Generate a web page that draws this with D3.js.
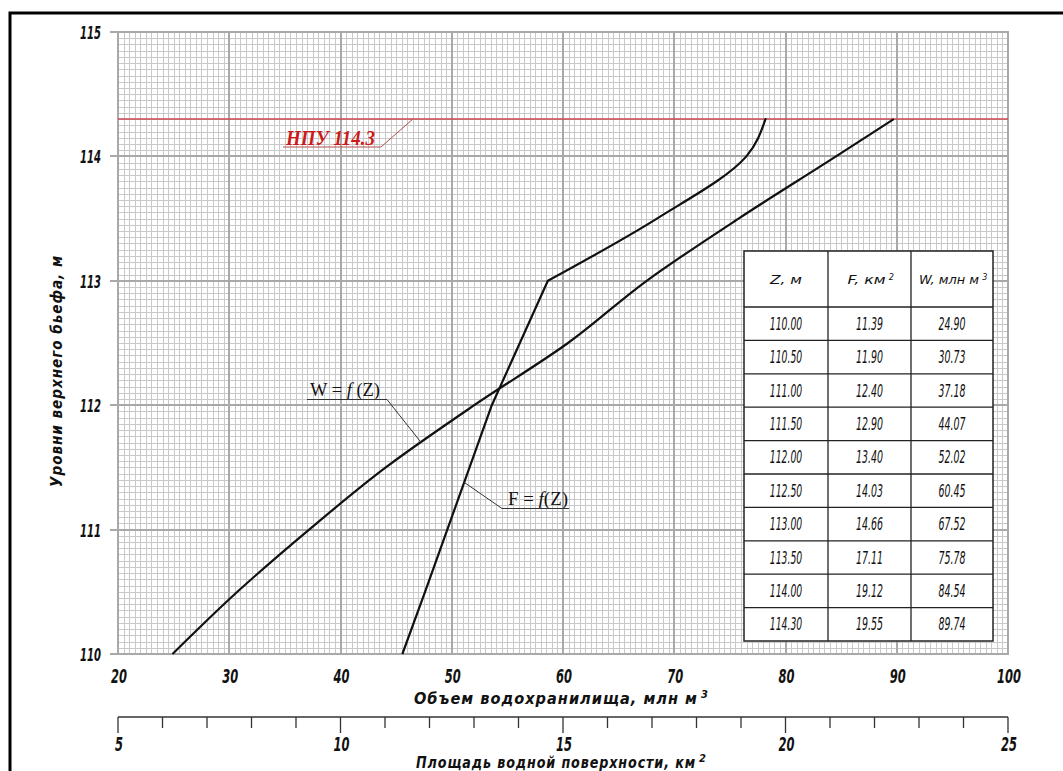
<!DOCTYPE html>
<html>
<head>
<meta charset="utf-8">
<script src="https://cdn.jsdelivr.net/npm/d3@7"></script>
<style>
    body { margin: 0; background: #fff; }
    svg { display: block; }
    .tick-label { font-family: "Liberation Sans Narrow", "Arial Narrow", "DejaVu Sans Condensed", "Liberation Sans", sans-serif; font-style: italic; font-weight: bold; font-size: 19px; fill: #111; }
    .axis-title { font-family: "Liberation Sans Narrow", "DejaVu Sans Condensed", "Liberation Sans", sans-serif; font-style: italic; font-weight: bold; font-size: 16px; fill: #111; letter-spacing: 1px; }
    .cell { font-family: "Liberation Sans Narrow", "DejaVu Sans Condensed", "Liberation Sans", sans-serif; font-style: italic; font-size: 17px; fill: #111; }
    .note { font-family: "Liberation Serif", "DejaVu Serif", serif; font-size: 19px; fill: #111; }
</style>
</head>
<body>
<script>
//Curves of reservoir volume and water surface area vs upstream level

(function (){

//pseudo-global data
var zLevels = [110.00, 110.50, 111.00, 111.50, 112.00, 112.50, 113.00, 113.50, 114.00, 114.30];
var areaF   = [11.39, 11.90, 12.40, 12.90, 13.40, 14.03, 14.66, 17.11, 19.12, 19.55];
var volumeW = [24.90, 30.73, 37.18, 44.07, 52.02, 60.45, 67.52, 75.78, 84.54, 89.74];

var volumeTicks = [20, 30, 40, 50, 60, 70, 80, 90, 100];
var areaTicks = [5, 10, 15, 20, 25];
var levelTicks = [110, 111, 112, 113, 114, 115];
var npuLevel = 114.3;
var breakLevel = 113;   //where the area curve changes slope sharply
var tableHeader = ["Z, м", "F, км", "W, млн м"];
var tableSup = ["", "2", "3"];

//frame dimensions
var width = 1063,
    height = 771;

var x = d3.scaleLinear().domain([20, 100]).range([118, 1008]);   //volume axis
var xF = d3.scaleLinear().domain([5, 25]).range([118, 1008]);    //area axis
var y = d3.scaleLinear().domain([110, 115]).range([654, 32]);

//piecewise lookups along the curves (used for leader lines)
var wAt = d3.scaleLinear().domain(zLevels).range(volumeW);
var fAt = d3.scaleLinear().domain(zLevels).range(areaF);

var svg = d3.select("body")
    .append("svg")
    .attr("width", width)
    .attr("height", height);

svg.append("rect")
    .attr("width", width)
    .attr("height", height)
    .attr("fill", "#fff");

//outer frame (left and top only visible)
svg.append("path")
    .attr("d", "M10,771V13H1063")
    .attr("fill", "none")
    .attr("stroke", "#000")
    .attr("stroke-width", 3);

drawGrid();
drawAxes();
drawCurves();
drawNotes();
drawTable();

//squeeze numbers so they look like the narrow drafting font
function narrow(sel, perChar){
    sel.attr("textLength", function(d){ return String(d).length * perChar; })
        .attr("lengthAdjust", "spacingAndGlyphs");
};

//small raised index placed right after a text element
function addSup(parent, textSel, sup, size, cls){
    var b = textSel.node().getBBox();
    parent.append("text")
        .attr("class", cls)
        .attr("x", b.x + b.width + 3)
        .attr("y", b.y + size * 0.85)
        .style("font-size", size + "px")
        .style("letter-spacing", "0px")
        .text(sup);
};

function drawGrid(){
    var g = svg.append("g").attr("shape-rendering", "crispEdges");

    //minor lines
    var vMinor = d3.range(20, 100.001, 0.5);
    var hMinor = d3.range(0, 101).map(function(i){ return 110 + i * 0.05; });

    g.selectAll(".vMinor")
        .data(vMinor)
        .enter()
        .append("line")
        .attr("class", "vMinor")
        .attr("x1", function(d){ return Math.round(x(d)) + 0.5; })
        .attr("x2", function(d){ return Math.round(x(d)) + 0.5; })
        .attr("y1", y(115))
        .attr("y2", y(110))
        .attr("stroke", "#c9c9c9")
        .attr("stroke-width", 1);

    g.selectAll(".hMinor")
        .data(hMinor)
        .enter()
        .append("line")
        .attr("class", "hMinor")
        .attr("x1", x(20))
        .attr("x2", x(100))
        .attr("y1", function(d){ return Math.round(y(d)) + 0.5; })
        .attr("y2", function(d){ return Math.round(y(d)) + 0.5; })
        .attr("stroke", "#c9c9c9")
        .attr("stroke-width", 1);

    //major lines
    g.selectAll(".vMajor")
        .data(volumeTicks)
        .enter()
        .append("line")
        .attr("class", "vMajor")
        .attr("x1", function(d){ return Math.round(x(d)); })
        .attr("x2", function(d){ return Math.round(x(d)); })
        .attr("y1", y(115) - 1)
        .attr("y2", y(110) + 1)
        .attr("stroke", "#a9a9a9")
        .attr("stroke-width", 2);

    g.selectAll(".hMajor")
        .data(levelTicks)
        .enter()
        .append("line")
        .attr("class", "hMajor")
        .attr("x1", x(20) - 8)
        .attr("x2", x(100) + 1)
        .attr("y1", function(d){ return Math.round(y(d)); })
        .attr("y2", function(d){ return Math.round(y(d)); })
        .attr("stroke", "#a9a9a9")
        .attr("stroke-width", 2);
}; //end of drawGrid

function drawAxes(){
    //level labels
    svg.selectAll(".yLabel")
        .data(levelTicks)
        .enter()
        .append("text")
        .attr("class", "tick-label")
        .attr("x", 101)
        .attr("y", function(d){ return y(d) + 7; })
        .attr("text-anchor", "end")
        .style("font-size", "18px")
        .text(function(d){ return d; })
        .call(narrow, 7);

    svg.append("text")
        .attr("class", "axis-title")
        .attr("transform", "translate(62,371) rotate(-90)")
        .attr("text-anchor", "middle")
        .attr("textLength", 232)
        .attr("lengthAdjust", "spacingAndGlyphs")
        .text("Уровни верхнего бьефа, м");

    //volume labels
    svg.selectAll(".xLabel")
        .data(volumeTicks)
        .enter()
        .append("text")
        .attr("class", "tick-label")
        .attr("x", function(d){ return x(d) + 1; })
        .attr("y", 683)
        .attr("text-anchor", "middle")
        .text(function(d){ return d; })
        .call(narrow, 8);

    var t1 = svg.append("text")
        .attr("class", "axis-title")
        .attr("x", 556)
        .attr("y", 704)
        .attr("text-anchor", "middle")
        .attr("textLength", 284)
        .attr("lengthAdjust", "spacingAndGlyphs")
        .text("Объем водохранилища, млн м");
    addSup(svg, t1, "3", 11, "axis-title");

    //area axis
    var axisY = 717;
    svg.append("line")
        .attr("x1", xF(5))
        .attr("x2", xF(25))
        .attr("y1", axisY)
        .attr("y2", axisY)
        .attr("stroke", "#333")
        .attr("stroke-width", 1.5);

    svg.selectAll(".fTick")
        .data(d3.range(5, 26, 1))
        .enter()
        .append("line")
        .attr("class", "fTick")
        .attr("x1", function(d){ return xF(d); })
        .attr("x2", function(d){ return xF(d); })
        .attr("y1", axisY)
        .attr("y2", function(d){ return d % 5 == 0 ? axisY + 16 : axisY + 11; })
        .attr("stroke", "#333")
        .attr("stroke-width", 1.3);

    svg.selectAll(".fLabel")
        .data(areaTicks)
        .enter()
        .append("text")
        .attr("class", "tick-label")
        .attr("x", function(d){ return xF(d) + 1; })
        .attr("y", 751)
        .attr("text-anchor", "middle")
        .text(function(d){ return d; })
        .call(narrow, 8);

    var t2 = svg.append("text")
        .attr("class", "axis-title")
        .attr("x", 556)
        .attr("y", 768)
        .attr("text-anchor", "middle")
        .attr("textLength", 280)
        .attr("lengthAdjust", "spacingAndGlyphs")
        .text("Площадь водной поверхности, км");
    addSup(svg, t2, "2", 11, "axis-title");
}; //end of drawAxes

function drawCurves(){
    var pts = zLevels.map(function(z, i){
        return {z: z, w: volumeW[i], f: areaF[i]};
    });

    var lineW = d3.line()
        .x(function(d){ return x(d.w); })
        .y(function(d){ return y(d.z); })
        .curve(d3.curveMonotoneY);

    //area curve: straight up to the break, smooth above it
    var lineFLow = d3.line()
        .x(function(d){ return xF(d.f); })
        .y(function(d){ return y(d.z); })
        .curve(d3.curveLinear);

    var lineFHigh = d3.line()
        .x(function(d){ return xF(d.f); })
        .y(function(d){ return y(d.z); })
        .curve(d3.curveMonotoneY);

    //normal headwater level
    svg.append("line")
        .attr("x1", x(20))
        .attr("x2", x(100))
        .attr("y1", y(npuLevel))
        .attr("y2", y(npuLevel))
        .attr("stroke", "#c9474f")
        .attr("stroke-width", 1.5);

    svg.append("path")
        .datum(pts)
        .attr("d", lineW)
        .attr("fill", "none")
        .attr("stroke", "#111")
        .attr("stroke-width", 2.2);

    svg.append("path")
        .datum(pts.filter(function(d){ return d.z <= breakLevel; }))
        .attr("d", lineFLow)
        .attr("fill", "none")
        .attr("stroke", "#111")
        .attr("stroke-width", 2.2)
        .attr("stroke-linejoin", "round");

    svg.append("path")
        .datum(pts.filter(function(d){ return d.z >= breakLevel; }))
        .attr("d", lineFHigh)
        .attr("fill", "none")
        .attr("stroke", "#111")
        .attr("stroke-width", 2.2)
        .attr("stroke-linecap", "round");
}; //end of drawCurves

function drawNotes(){
    //НПУ label
    svg.append("text")
        .attr("class", "note")
        .attr("x", 286)
        .attr("y", 145)
        .attr("textLength", 89)
        .attr("lengthAdjust", "spacingAndGlyphs")
        .style("font-weight", "bold")
        .style("font-style", "italic")
        .style("font-size", "21px")
        .style("fill", "#cc1a1a")
        .text("НПУ 114.3");

    svg.append("path")
        .attr("d", "M283,147H381L" + x(46.5) + "," + y(npuLevel))
        .attr("fill", "none")
        .attr("stroke", "#b05050")
        .attr("stroke-width", 1);

    //W = f(Z)
    var zw = 111.7;
    svg.append("text")
        .attr("class", "note")
        .attr("x", 310)
        .attr("y", 396)
        .attr("textLength", 70)
        .attr("lengthAdjust", "spacingAndGlyphs")
        .html("W = <tspan font-style='italic'>f</tspan> (Z)");

    svg.append("path")
        .attr("d", "M307,399.5H387L" + x(wAt(zw)) + "," + y(zw))
        .attr("fill", "none")
        .attr("stroke", "#333")
        .attr("stroke-width", 1);

    //F = f(Z)
    var zf = 111.38;
    svg.append("text")
        .attr("class", "note")
        .attr("x", 508)
        .attr("y", 505)
        .attr("textLength", 60)
        .attr("lengthAdjust", "spacingAndGlyphs")
        .html("F = <tspan font-style='italic'>f</tspan>(Z)");

    svg.append("path")
        .attr("d", "M569,508.5H502L" + xF(fAt(zf)) + "," + y(zf))
        .attr("fill", "none")
        .attr("stroke", "#333")
        .attr("stroke-width", 1);
}; //end of drawNotes

function drawTable(){
    var colX = [744, 828, 911, 993],
        top = 251,
        headH = 56,
        rowH = 33.4;

    var rows = zLevels.map(function(z, i){
        return [z.toFixed(2), areaF[i].toFixed(2), volumeW[i].toFixed(2)];
    });

    var tbl = svg.append("g");

    tbl.append("rect")
        .attr("x", colX[0])
        .attr("y", top)
        .attr("width", colX[3] - colX[0])
        .attr("height", headH + rowH * rows.length)
        .attr("fill", "#fff")
        .attr("stroke", "#222")
        .attr("stroke-width", 1.5);

    //column dividers
    tbl.selectAll(".colLine")
        .data(colX.slice(1, 3))
        .enter()
        .append("line")
        .attr("x1", function(d){ return d; })
        .attr("x2", function(d){ return d; })
        .attr("y1", top)
        .attr("y2", top + headH + rowH * rows.length)
        .attr("stroke", "#222")
        .attr("stroke-width", 1.3);

    //row dividers
    tbl.selectAll(".rowLine")
        .data(d3.range(rows.length))
        .enter()
        .append("line")
        .attr("x1", colX[0])
        .attr("x2", colX[3])
        .attr("y1", function(d){ return top + headH + d * rowH; })
        .attr("y2", function(d){ return top + headH + d * rowH; })
        .attr("stroke", "#222")
        .attr("stroke-width", 1.3);

    //header
    var headLen = [32, 38, 60];
    tableHeader.forEach(function(h, i){
        var t = tbl.append("text")
            .attr("class", "cell")
            .attr("x", (colX[i] + colX[i + 1]) / 2 - (tableSup[i] != "" ? 3 : 0))
            .attr("y", top + headH / 2 + 5)
            .attr("text-anchor", "middle")
            .attr("textLength", headLen[i])
            .attr("lengthAdjust", "spacingAndGlyphs")
            .style("font-size", "13px")
            .text(h);
        if (tableSup[i] != "") {
            addSup(tbl, t, tableSup[i], 9, "cell");
        };
    });

    //body cells
    rows.forEach(function(r, ri){
        r.forEach(function(v, ci){
            tbl.append("text")
                .attr("class", "cell")
                .attr("x", (colX[ci] + colX[ci + 1]) / 2)
                .attr("y", top + headH + ri * rowH + rowH / 2 + 6)
                .attr("text-anchor", "middle")
                .datum(v)
                .text(v)
                .call(narrow, 5.4);
        });
    });
}; //end of drawTable

})();
</script>
</body>
</html>
